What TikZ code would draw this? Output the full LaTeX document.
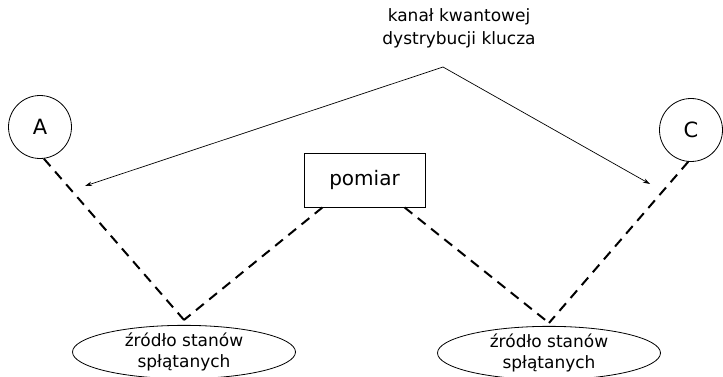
\documentclass[tikz,border=0pt]{standalone}
\usepackage{fontspec}
\setmainfont{DejaVu Sans}
\usetikzlibrary{shapes.geometric,arrows.meta,calc}
\begin{document}
\begin{tikzpicture}[x=1pt,y=-1pt,
  party/.style={draw,circle,line width=0.8pt,minimum size=63pt,inner sep=0pt,font=\fontsize{21}{24}\selectfont},
  source/.style={draw,ellipse,line width=0.8pt,minimum width=223pt,minimum height=50pt,inner sep=0pt,align=center,font=\fontsize{17}{20.5}\selectfont},
  measbox/.style={draw,rectangle,line width=0.8pt,minimum width=121pt,minimum height=54pt,inner sep=0pt,font=\fontsize{20}{24}\selectfont},
  link/.style={line width=2pt,dash pattern=on 10pt off 7pt},
  chan/.style={line width=0.7pt,-{Stealth[length=7pt,width=4.5pt]}}]
\useasboundingbox (0,0) rectangle (723,377);
\node[party] (A) at (40,127) {A};
\node[party] (C) at (691,130) {C};
\node[measbox] (M) at (364.5,180) {pomiar};
\node[source] (S1) at (184,352) {źródło stanów\\spłątanych};
\node[source] (S2) at (549,353) {źródło stanów\\spłątanych};
\node[align=center,font=\fontsize{17}{23}\selectfont] (T) at (459,28.5) {kanał kwantowej\\dystrybucji klucza};
\coordinate (apex) at (443,67);
\coordinate (endA) at (85,186);
\coordinate (endC) at (650,184);
\coordinate (v1) at ($(S1.north)+(0,-5)$);
\coordinate (v2) at ($(S2.north)+(0,-3)$);
\coordinate (m1) at ($(M.south)+(-42,0)$);
\coordinate (m2) at ($(M.south)+(40,0)$);
\draw[chan] (apex) -- (endA);
\draw[chan] (apex) -- (endC);
\draw[link] (A.-83) -- (v1);
\draw[link] (m1) -- (v1);
\draw[link] (m2) -- (v2);
\draw[link] (C.-95) -- (v2);
\end{tikzpicture}
\end{document}
